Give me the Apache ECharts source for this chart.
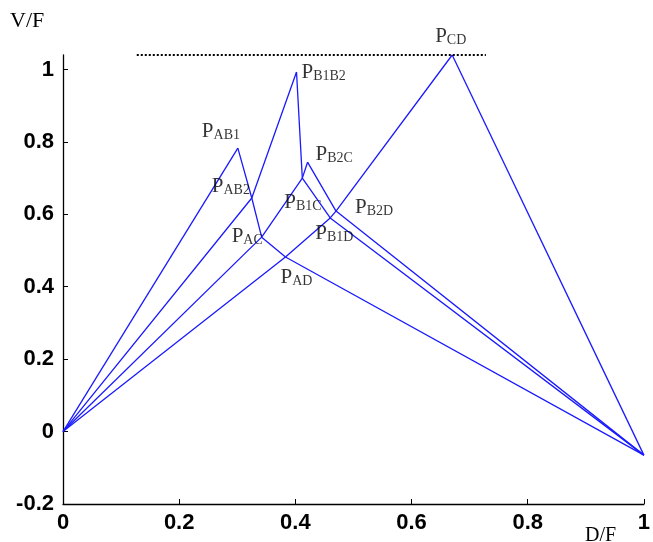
<!DOCTYPE html>
<html>
<head>
<meta charset="utf-8">
<script src="https://cdn.jsdelivr.net/npm/echarts@6/dist/echarts.min.js"></script>
<style>
html,body{margin:0;padding:0;background:#fff;}
#c{width:653px;height:542px;}
</style>
</head>
<body>
<div id="c"></div>
<script>
// ---- data (D/F, V/F) ----
const O      = [0, 0];
const E      = [1, -0.065];
const P_AB1  = [0.301, 0.783];
const P_AB2  = [0.325, 0.645];
const P_AC   = [0.342, 0.537];
const P_AD   = [0.383, 0.482];
const P_B1B2 = [0.402, 0.993];
const P_B1C  = [0.412, 0.700];
const P_B2C  = [0.421, 0.744];
const P_B1D  = [0.460, 0.590];
const P_B2D  = [0.470, 0.609];
const P_CD   = [0.670, 1.040];

const lines = [
  [O, P_AB1],
  [O, P_AB2, P_B1B2],
  [O, P_AC, P_B1C, P_B2C],
  [O, P_AD, P_B1D, P_B2D, P_CD],
  [P_AB1, P_AB2, P_AC, P_AD, E],
  [P_B1B2, P_B1C, P_B1D, E],
  [P_B2C, P_B2D, E],
  [P_CD, E]
];

const dottedX = [0.127, 0.728];
const dottedY = 1.04;

const pointNames = ['AB1','AB2','AC','AD','B1B2','B1C','B2C','B1D','B2D','CD'];
const pointVals  = [P_AB1,P_AB2,P_AC,P_AD,P_B1B2,P_B1C,P_B2C,P_B1D,P_B2D,P_CD];

const xTicks = [0, 0.2, 0.4, 0.6, 0.8, 1];
const yTicks = [-0.2, 0, 0.2, 0.4, 0.6, 0.8, 1];

// label placement (pixels relative to the point)
const labelOffset = {
  AB1:[-36,-6], AB2:[-40,-1], AC:[-30,10], AD:[-5,31], B1B2:[5,11],
  B1C:[-18,35], B2C:[8,3], B1D:[-15,26], B2D:[19,7], CD:[-17,-8]
};

const chart = echarts.init(document.getElementById('c'), null, {renderer:'canvas'});

const lineColor = '#1a1aff';
const series = lines.map(pts => ({
  type:'line', data: pts, showSymbol:false, symbol:'none', silent:true,
  lineStyle:{color:lineColor, width:1.3}, z:2, animation:false
}));
series.push({
  type:'line', data: dottedX.map(x => [x, dottedY]), showSymbol:false, symbol:'none',
  silent:true, lineStyle:{color:'#000', width:2, type:[2,2]}, animation:false
});
series.push({
  type:'scatter', symbolSize:0, silent:true, animation:false,
  data: pointNames.map((n,i) => ({
    name:n, value:pointVals[i],
    label:{offset: labelOffset[n]}
  })),
  label:{
    show:true, position:'inside', align:'left', verticalAlign:'bottom',
    formatter: p => '{p|P}{s|' + p.name + '}',
    rich:{
      p:{fontFamily:'Liberation Serif', fontSize:21, color:'#000', lineHeight:24, verticalAlign:'bottom'},
      s:{fontFamily:'Liberation Serif', fontSize:14, color:'#000', lineHeight:10, verticalAlign:'bottom'}
    }
  }
});

chart.setOption({
  animation:false,
  backgroundColor:'#fff',
  grid:{left:63, right:5.5, top:55, bottom:38, containLabel:false},
  xAxis:{
    type:'value', min:0, max:1, interval:0.2,
    splitLine:{show:false},
    axisLine:{onZero:false, lineStyle:{color:'#000', width:1.3}},
    axisTick:{inside:true, length:5, lineStyle:{color:'#000'}},
    axisLabel:{color:'#000', fontFamily:'Liberation Sans', fontWeight:'bold', fontSize:22, margin:8,
      formatter: v => String(+v.toFixed(1))}
  },
  yAxis:{
    type:'value', min:-0.2, max:1.04, interval:0.2,
    splitLine:{show:false},
    axisLine:{show:true, onZero:false, lineStyle:{color:'#000', width:1.3}},
    axisTick:{inside:true, length:5, lineStyle:{color:'#000'}, customValues: yTicks},
    axisLabel:{color:'#000', fontFamily:'Liberation Sans', fontWeight:'bold', fontSize:22, margin:9,
      customValues: yTicks,
      formatter: v => {
        const r = Math.round(v*5)/5;
        if (Math.abs(r - v) > 1e-6) return '';
        return String(+r.toFixed(1));
      }}
  },
  graphic:[
    {type:'text', left:10, top:10, style:{text:'V/F', font:'22px "Liberation Serif"', fill:'#000'}},
    {type:'text', left:585, top:526, style:{text:'D/F', font:'20px "Liberation Serif"', fill:'#000'}}
  ],
  series: series
});
</script>
</body>
</html>
